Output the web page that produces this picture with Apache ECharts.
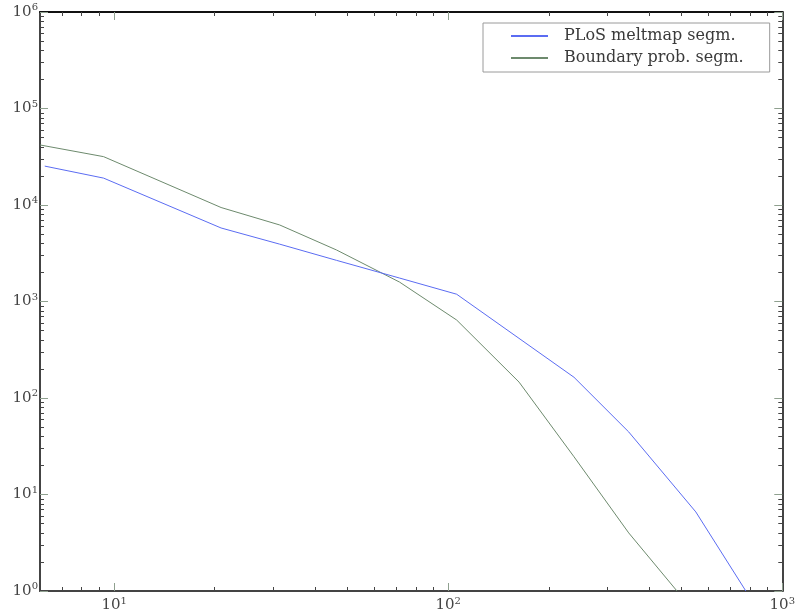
<!DOCTYPE html>
<html>
<head>
<meta charset="utf-8">
<script src="https://cdn.jsdelivr.net/npm/echarts@6/dist/echarts.min.js"></script>
<style>html,body{margin:0;padding:0;background:#fff}#c{width:798px;height:614px}</style>
</head>
<body>
<div id="c"></div>
<script>
// ---- data ----
var seriesNames = ['PLoS meltmap segm.', 'Boundary prob. segm.'];
var blueX = [6.2, 9.3, 20.9, 31.3, 46.3, 71.5, 106, 238, 347, 551, 778];
var blueY = [25300, 19000, 5780, 3930, 2670, 1750, 1190, 164, 44.5, 6.6, 1];
var greenX = [6.0, 9.3, 20.9, 31.3, 46.3, 71.5, 106, 163, 238, 347, 484];
var greenY = [41900, 31700, 9420, 6210, 3420, 1590, 643, 146, 24.6, 4.0, 1];
var xMajorTicks = [10, 100, 1000];
var yMajorTicks = [1, 10, 100, 1000, 10000, 100000, 1000000];

function minorTicks(lo, hi) {
  var out = [];
  for (var d = lo; d < hi; d *= 10) {
    for (var k = 2; k <= 9; k++) out.push(k * d);
  }
  return out;
}
var xMinor = minorTicks(1, 1000).filter(function (v) { return v > 6 && v < 1000; });
var yMinor = minorTicks(1, 1000000);

function pair(xs, ys) { return xs.map(function (x, i) { return [x, ys[i]]; }); }

var FONT = 'DejaVu Serif';
var rich = {
  b: { fontSize: 15, fontFamily: FONT, color: '#444' },
  s: { fontSize: 10, fontFamily: FONT, color: '#444', padding: [0, 0, 9, 0] }
};
function fmt(v) {
  var e = Math.round(Math.log10(v));
  return '{b|10}{s|' + e + '}';
}
var majorTickColor = '#8fa08f';
var minorTickColor = '#444';

function xAx(pos, major, showLine, showLabel, lineColor) {
  return {
    type: 'log', logBase: 10, min: 6, max: 1000, position: pos,
    axisLine: { show: showLine, onZero: false, lineStyle: { color: lineColor || '#444', width: 2 } },
    axisTick: { show: true, inside: true, length: major ? 8 : 4,
      customValues: major ? xMajorTicks : xMinor,
      lineStyle: { color: major ? majorTickColor : minorTickColor, width: 1 } },
    axisLabel: { show: showLabel, margin: 5, customValues: xMajorTicks, formatter: fmt, rich: rich },
    splitLine: { show: false }, minorTick: { show: false }
  };
}
function yAx(pos, major, showLine, showLabel) {
  return {
    type: 'log', logBase: 10, min: 1, max: 1000000, position: pos,
    axisLine: { show: showLine, onZero: false, lineStyle: { color: '#444', width: 2 } },
    axisTick: { show: true, inside: true, length: major ? 8 : 4,
      customValues: major ? yMajorTicks : yMinor,
      lineStyle: { color: major ? majorTickColor : minorTickColor, width: 1 } },
    axisLabel: { show: showLabel, margin: 2, customValues: yMajorTicks, formatter: fmt, rich: rich },
    splitLine: { show: false }, minorTick: { show: false }
  };
}

var chart = echarts.init(document.getElementById('c'), null, { renderer: 'canvas' });
chart.setOption({
  backgroundColor: '#fff',
  animation: false,
  grid: { left: 40, right: 14, top: 12, bottom: 23 },
  xAxis: [
    xAx('bottom', true, true, true),
    xAx('bottom', false, false, false),
    xAx('top', true, true, false, '#111'),
    xAx('top', false, false, false)
  ],
  yAxis: [
    yAx('left', true, true, true),
    yAx('left', false, false, false),
    yAx('right', true, true, false),
    yAx('right', false, false, false)
  ],
  legend: {
    orient: 'vertical', left: 483, top: 23,
    padding: [5, 26, 6, 27], itemGap: 6, itemWidth: 37, itemHeight: 14,
    backgroundColor: '#fff', borderColor: '#9a9a9a', borderWidth: 1, borderRadius: 0,
    itemStyle: { opacity: 0 },
    textStyle: { fontFamily: FONT, fontSize: 16, lineHeight: 14, color: '#3a3a3a', padding: [0, 0, 0, 11] },
    data: seriesNames
  },
  series: [
    { name: seriesNames[0], type: 'line', data: pair(blueX, blueY), symbol: 'none',
      lineStyle: { color: '#5b6cf2', width: 1 }, itemStyle: { color: '#5b6cf2' }, z: 3 },
    { name: seriesNames[1], type: 'line', data: pair(greenX, greenY), symbol: 'none',
      lineStyle: { color: '#6d8a6d', width: 1 }, itemStyle: { color: '#6d8a6d' }, z: 2 }
  ]
});
</script>
</body>
</html>
